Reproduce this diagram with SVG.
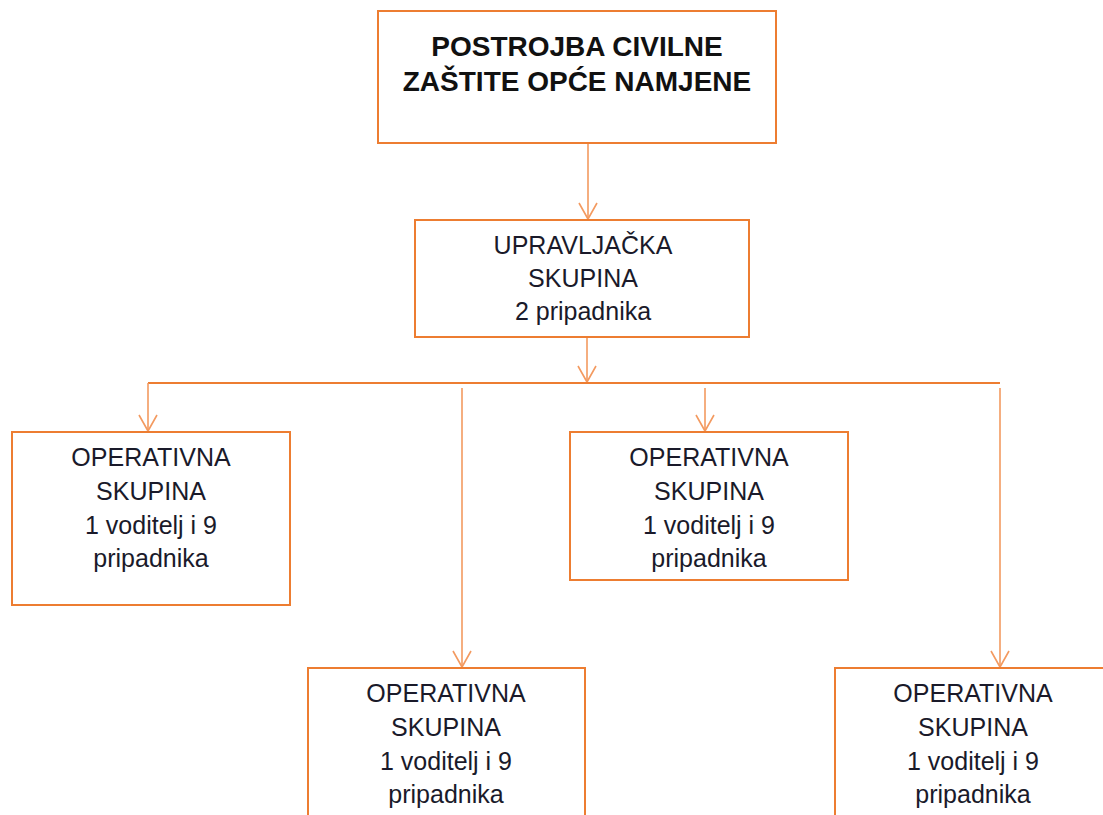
<svg xmlns="http://www.w3.org/2000/svg" width="1103" height="815" viewBox="0 0 1103 815">
<defs>
<style>
.box{fill:#fff;stroke:#ED7D31;stroke-width:2}
.con{fill:none;stroke:#F39A60;stroke-width:1.6}
.t{font-family:"Liberation Sans",Arial,sans-serif;font-size:25px;fill:#1a1a2a;text-anchor:middle}
.tb{font-family:"Liberation Sans",Arial,sans-serif;font-size:28px;font-weight:bold;fill:#111;text-anchor:middle}
</style>
</defs>
<rect width="1103" height="815" fill="#fff"/>
<g id="connectors">
<line class="con" x1="588" y1="143" x2="588" y2="219"/>
<path class="con" d="M588 219 m-9 -16 l9 16 l9 -16"/>
<line class="con" x1="587" y1="337" x2="587" y2="382"/>
<path class="con" d="M587 382 m-9 -16 l9 16 l9 -16"/>
<line class="con" x1="148" y1="383" x2="1000" y2="383" style="stroke:#ED7D31;stroke-width:2"/>
<line class="con" x1="148" y1="383" x2="148" y2="431"/>
<path class="con" d="M148 431 m-9 -16 l9 16 l9 -16"/>
<line class="con" x1="462" y1="388" x2="462" y2="667"/>
<path class="con" d="M462 667 m-9 -16 l9 16 l9 -16"/>
<line class="con" x1="705" y1="388" x2="705" y2="431"/>
<path class="con" d="M705 431 m-9 -16 l9 16 l9 -16"/>
<line class="con" x1="1000" y1="388" x2="1000" y2="667"/>
<path class="con" d="M1000 667 m-9 -16 l9 16 l9 -16"/>
</g>
<g id="n1">
<rect class="box" x="378" y="11" width="398" height="132"/>
<text class="tb" x="577" y="56">POSTROJBA CIVILNE</text>
<text class="tb" x="577" y="91">ZAŠTITE OPĆE NAMJENE</text>
</g>
<g id="n2">
<rect class="box" x="415" y="220" width="334" height="117"/>
<text class="t" x="583" y="254">UPRAVLJAČKA</text>
<text class="t" x="583" y="287">SKUPINA</text>
<text class="t" x="583" y="320">2 pripadnika</text>
</g>
<g id="n3">
<rect class="box" x="12" y="432" width="278" height="173"/>
<text class="t" x="151" y="466">OPERATIVNA</text>
<text class="t" x="151" y="500">SKUPINA</text>
<text class="t" x="151" y="534">1 voditelj i 9</text>
<text class="t" x="151" y="567">pripadnika</text>
</g>
<g id="n4">
<rect class="box" x="570" y="432" width="278" height="148"/>
<text class="t" x="709" y="466">OPERATIVNA</text>
<text class="t" x="709" y="500">SKUPINA</text>
<text class="t" x="709" y="534">1 voditelj i 9</text>
<text class="t" x="709" y="567">pripadnika</text>
</g>
<g id="n5">
<rect class="box" x="308" y="668" width="277" height="170"/>
<text class="t" x="446" y="702">OPERATIVNA</text>
<text class="t" x="446" y="736">SKUPINA</text>
<text class="t" x="446" y="770">1 voditelj i 9</text>
<text class="t" x="446" y="803">pripadnika</text>
</g>
<g id="n6">
<rect class="box" x="835" y="668" width="290" height="170"/>
<text class="t" x="973" y="702">OPERATIVNA</text>
<text class="t" x="973" y="736">SKUPINA</text>
<text class="t" x="973" y="770">1 voditelj i 9</text>
<text class="t" x="973" y="803">pripadnika</text>
</g>
</svg>
